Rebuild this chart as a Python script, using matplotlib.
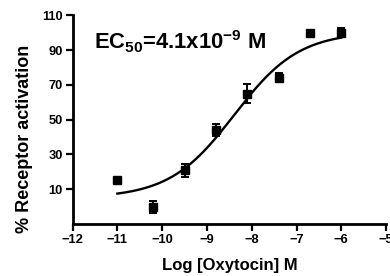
import numpy as np
import matplotlib
matplotlib.use('Agg')
import matplotlib.pyplot as plt

###############################################################################
# Data
###############################################################################
logConc = [-11.0, -10.2, -9.5, -8.8, -8.1, -7.4, -6.7, -6.0]
response = [15.2, -0.2, 20.9, 43.9, 65.0, 74.2, 99.5, 100.0]
respErr = [0.0, 3.5, 3.8, 3.5, 5.5, 2.5, 0.0, 2.5]
# Fitted 4PL curve parameters (bottom, top, logEC50, hill)
(BOTTOM, TOP, LOG_EC50, HILL) = (5.0, 100.5, -8.39, 0.6)
(CURVE_MIN, CURVE_MAX) = (-11.0, -6.0)
xTicks = [-12, -11, -10, -9, -8, -7, -6, -5]
yTicks = [10, 30, 50, 70, 90, 110]

###############################################################################
# Style
###############################################################################
plt.rcParams['font.family'] = ['Liberation Sans', 'DejaVu Sans']
plt.rcParams['font.weight'] = 'bold'
plt.rcParams['mathtext.fontset'] = 'custom'
plt.rcParams['mathtext.rm'] = 'Liberation Sans:bold'
plt.rcParams['mathtext.bf'] = 'Liberation Sans:bold'
plt.rcParams['mathtext.it'] = 'Liberation Sans:bold'
plt.rcParams['mathtext.default'] = 'bf'

fig = plt.figure(figsize=(3.9, 2.76), dpi=100)
ax = fig.add_axes([0.186, 0.188, 0.804, 0.757])

# Fitted curve ----------------------------------------------------------------
xs = np.linspace(CURVE_MIN, CURVE_MAX, 200)
ys = BOTTOM + (TOP - BOTTOM) / (1 + 10 ** ((LOG_EC50 - xs) * HILL))
ax.plot(xs, ys, color='black', linewidth=1.7, zorder=2)

# Points with error bars ------------------------------------------------------
ax.errorbar(
    logConc, response, yerr=respErr,
    fmt='s', color='black', markersize=5.5,
    elinewidth=1.4, capsize=3.2, capthick=1.4, zorder=3
)

# Axes ------------------------------------------------------------------------
ax.set_xlim(-12, -5)
ax.set_ylim(-10, 110)
ax.set_xticks(xTicks)
ax.set_yticks(yTicks)
ax.set_xticklabels(['\u2212' + str(abs(t)) for t in xTicks])
ax.set_yticklabels([str(t) for t in yTicks])
for side in ('top', 'right'):
    ax.spines[side].set_visible(False)
for side in ('left', 'bottom'):
    ax.spines[side].set_linewidth(2.0)
ax.tick_params(width=1.6, length=5, labelsize=9.3, pad=2)
for lbl in ax.get_xticklabels() + ax.get_yticklabels():
    lbl.set_fontweight('bold')

fig.text(0.59, 0.022, 'Log [Oxytocin] M', fontsize=12, fontweight='bold',
         ha='center', va='baseline')
fig.text(0.064, 0.497, '% Receptor activation', fontsize=13,
         fontweight='bold', rotation=90, ha='center', va='center')

ax.text(
    0.07, 0.834, r'EC$_{50}$=4.1x10$^{-9}$ M',
    transform=ax.transAxes, fontsize=15.8, fontweight='bold',
    ha='left', va='baseline'
)

fig.savefig('out.png', dpi=100)
plt.close(fig)
